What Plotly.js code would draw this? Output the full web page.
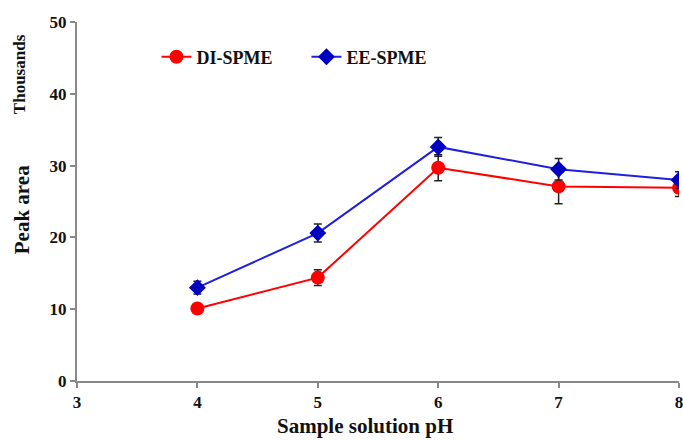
<!DOCTYPE html>
<html><head><meta charset="utf-8">
<script src="https://cdn.plot.ly/plotly-3.0.1.min.js"></script>
<style>html,body{margin:0;padding:0;background:#fff}#chart{width:683px;height:440px}</style>
</head><body><div id="chart"></div>
<script>
const pH = [4, 5, 6, 7, 8];
const diSpme = [10.1, 14.4, 29.7, 27.1, 26.9];
const diErr = [0.5, 1.1, 1.8, 2.4, 1.2];
const eeSpme = [13.0, 20.6, 32.6, 29.5, 28.0];
const eeErr = [0.9, 1.25, 1.3, 1.5, 1.15];
const xTicks = [3, 4, 5, 6, 7, 8];
const yTicks = [0, 10, 20, 30, 40, 50];

const font = 'Liberation Serif, Times New Roman, serif';
const traces = [
  {x: pH, y: diSpme, name: '<b>DI-SPME</b>', type: 'scatter', mode: 'lines+markers',
   line: {color: '#ff0000', width: 2}, marker: {color: '#ff0000', size: 14, symbol: 'circle'},
   error_y: {type: 'data', array: diErr, visible: true, color: '#222', thickness: 1.5, width: 4}},
  {x: pH, y: eeSpme, name: '<b>EE-SPME</b>', type: 'scatter', mode: 'lines+markers',
   line: {color: '#1f1fdd', width: 2}, marker: {color: '#0000c0', size: 13, symbol: 'diamond'},
   error_y: {type: 'data', array: eeErr, visible: true, color: '#222', thickness: 1.5, width: 4}}
];
const layout = {
  width: 683, height: 440,
  margin: {l: 77, r: 4, t: 22, b: 59},
  paper_bgcolor: '#fff', plot_bgcolor: '#fff',
  font: {family: font, color: '#111'},
  showlegend: true,
  legend: {orientation: 'h', x: 0.132, y: 0.9025, xanchor: 'left', yanchor: 'middle',
    font: {family: font, size: 18, color: '#111'}, bgcolor: 'rgba(0,0,0,0)',
    entrywidth: 105, entrywidthmode: 'pixels', tracegroupgap: 0},
  xaxis: {range: [3, 8], tickvals: xTicks, ticktext: xTicks.map(v => '<b>' + v + '</b>'),
    showgrid: false, zeroline: false, showline: true, linecolor: '#888', linewidth: 2,
    ticks: 'outside', ticklen: 5, tickcolor: '#888', tickwidth: 2, ticklabeloverflow: 'allow',
    tickfont: {family: font, size: 17, color: '#111'}},
  yaxis: {range: [0, 50], tickvals: yTicks, ticktext: yTicks.map(v => '<b>' + v + '</b>'),
    showgrid: false, zeroline: false, showline: true, linecolor: '#888', linewidth: 2,
    ticks: 'outside', ticklen: 5, tickcolor: '#888', tickwidth: 2,
    tickfont: {family: font, size: 17, color: '#111'}},
  annotations: [
    {text: '<b>Thousands</b>', xref: 'paper', yref: 'paper', x: -0.0962, y: 0.855,
     xanchor: 'center', yanchor: 'middle', textangle: -90, showarrow: false,
     font: {family: font, size: 17, color: '#111'}},
    {text: '<b>Peak area</b>', xref: 'paper', yref: 'paper', x: -0.0912, y: 0.476,
     xanchor: 'center', yanchor: 'middle', textangle: -90, showarrow: false,
     font: {family: font, size: 21, color: '#111'}},
    {text: '<b>Sample solution pH</b>', xref: 'paper', yref: 'paper', x: 0.479, y: -0.124,
     xanchor: 'center', yanchor: 'middle', showarrow: false,
     font: {family: font, size: 21, color: '#111'}}
  ]
};
Plotly.newPlot('chart', traces, layout, {displayModeBar: false, staticPlot: true});
</script></body></html>
